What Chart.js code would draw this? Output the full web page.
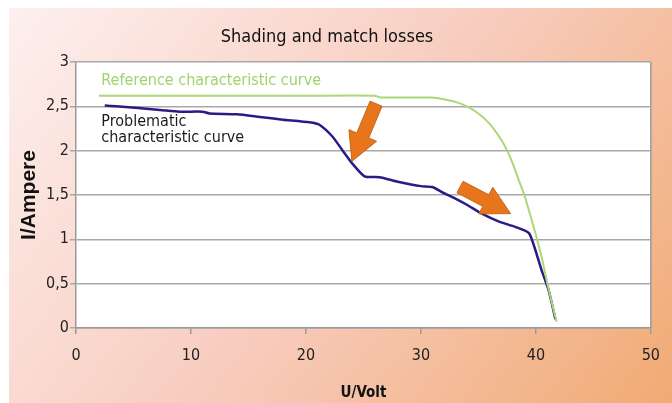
<!DOCTYPE html>
<html>
<head>
<meta charset="utf-8">
<script src="https://cdn.jsdelivr.net/npm/chart.js@4"></script>
<style>
  html, body { margin: 0; padding: 0; background: #fff; }
  #wrap { width: 672px; height: 403px; }
</style>
</head>
<body>
<div id="wrap"><canvas id="ivChart" width="672" height="403"></canvas></div>
<script>
// reference (unshaded) I-V curve
var refU = [2, 10, 20, 26, 26.5, 31, 32, 33, 34, 35, 36, 37, 37.5, 38, 38.5, 39, 39.5, 40, 40.5, 41, 41.4, 41.8];
var refI = [2.62, 2.62, 2.62, 2.62, 2.6, 2.6, 2.58, 2.55, 2.5, 2.42, 2.3, 2.12, 2.0, 1.85, 1.67, 1.5, 1.28, 1.05, 0.8, 0.5, 0.28, 0.07];

// problematic (shaded / mismatched) curve
var probU = [2.5, 3.5, 7.3, 9, 11, 11.6, 14, 16, 18, 20.3, 21.2, 22.3, 23.2, 24, 25.1, 26.4, 28, 30, 31, 32, 33, 34, 35.3, 36.8, 38.2, 39.4, 40, 40.5, 41.1, 41.7];
var probI = [2.51, 2.5, 2.46, 2.44, 2.44, 2.42, 2.41, 2.38, 2.35, 2.32, 2.29, 2.16, 2.0, 1.86, 1.71, 1.7, 1.65, 1.6, 1.59, 1.52, 1.46, 1.39, 1.29, 1.2, 1.14, 1.07, 0.86, 0.65, 0.43, 0.1];

// arrows [tailU, tailI, tipU, tipI]
var arrows = [[26.1, 2.53, 24.0, 1.88], [33.4, 1.59, 37.8, 1.29]];

// in-chart labels: text lines, colour, anchor (U, I)
var labels = [
  { lines: ["Reference characteristic curve"], color: "#9fd46c", u: 2.2, i: 2.79 },
  { lines: ["Problematic", "characteristic curve"], color: "#1c1c1c", u: 2.2, i: 2.33 }
];

var NARROW = "'Liberation Sans Narrow', 'DejaVu Sans Condensed', sans-serif";

function toPoints(xs, ys) {
  return xs.map(function (x, k) { return { x: x, y: ys[k] }; });
}

var backdrop = {
  id: 'backdrop',
  beforeDraw: function (chart) {
    var c = chart.ctx, a = chart.chartArea;
    c.save();
    c.fillStyle = '#ffffff';
    c.fillRect(0, 0, chart.width, chart.height);
    var g = c.createLinearGradient(9, 8, chart.width, chart.height + 120);
    g.addColorStop(0, '#fdf0ee');
    g.addColorStop(0.45, '#f8cdc0');
    g.addColorStop(1, '#efa465');
    c.fillStyle = g;
    c.fillRect(9, 8, chart.width - 9, chart.height - 8);
    c.fillStyle = '#ffffff';
    c.fillRect(a.left, a.top, a.right - a.left, a.bottom - a.top);
    c.strokeStyle = '#9a9a9a';
    c.lineWidth = 1.5;
    c.beginPath();
    c.moveTo(a.right, a.top);
    c.lineTo(a.right, a.bottom);
    c.stroke();
    c.restore();
  }
};

var notes = {
  id: 'notes',
  afterDatasetsDraw: function (chart) {
    var c = chart.ctx, xs = chart.scales.x, ys = chart.scales.y;
    c.save();
    // arrows
    arrows.forEach(function (ar) {
      var x0 = xs.getPixelForValue(ar[0]), y0 = ys.getPixelForValue(ar[1]);
      var x1 = xs.getPixelForValue(ar[2]), y1 = ys.getPixelForValue(ar[3]);
      var dx = x1 - x0, dy = y1 - y0, len = Math.sqrt(dx * dx + dy * dy);
      var ux = dx / len, uy = dy / len, nx = -uy, ny = ux;
      var sw = 6.5, hw = 15, hl = 28;
      var bx = x1 - ux * hl, by = y1 - uy * hl;
      c.beginPath();
      c.moveTo(x0 + nx * sw, y0 + ny * sw);
      c.lineTo(bx + nx * sw, by + ny * sw);
      c.lineTo(bx + nx * hw, by + ny * hw);
      c.lineTo(x1, y1);
      c.lineTo(bx - nx * hw, by - ny * hw);
      c.lineTo(bx - nx * sw, by - ny * sw);
      c.lineTo(x0 - nx * sw, y0 - ny * sw);
      c.closePath();
      c.fillStyle = '#e8751c';
      c.fill();
      c.strokeStyle = '#c9651a';
      c.lineWidth = 1;
      c.stroke();
    });
    // labels
    c.font = '16px ' + NARROW;
    c.textAlign = 'left';
    c.textBaseline = 'middle';
    labels.forEach(function (lb) {
      var x = xs.getPixelForValue(lb.u), y = ys.getPixelForValue(lb.i);
      c.fillStyle = lb.color;
      lb.lines.forEach(function (t, k) { c.fillText(t, x, y + k * 16); });
    });
    c.restore();
  }
};

var ctx = document.getElementById('ivChart').getContext('2d');
var ivChart = new Chart(ctx, {
  type: 'scatter',
  data: {
    datasets: [{
      label: 'Reference characteristic curve',
      data: toPoints(refU, refI),
      showLine: true,
      borderColor: '#a8d878',
      borderWidth: 2,
      pointRadius: 0,
      tension: 0.2
    }, {
      label: 'Problematic characteristic curve',
      data: toPoints(probU, probI),
      showLine: true,
      borderColor: '#2c1b85',
      borderWidth: 2.5,
      pointRadius: 0,
      tension: 0.2
    }]
  },
  options: {
    responsive: false,
    animation: false,
    layout: { padding: { left: 0, right: 18, top: 0, bottom: 0 } },
    plugins: {
      legend: { display: false },
      tooltip: { enabled: false },
      title: {
        display: true,
        text: 'Shading and match losses',
        color: '#111',
        font: { family: NARROW, size: 18, weight: 'normal', lineHeight: 1.2 },
        padding: { top: 27, bottom: 13.4 }
      }
    },
    scales: {
      x: {
        type: 'linear',
        min: 0, max: 50,
        ticks: {
          stepSize: 10, color: '#222', padding: 12,
          font: { family: NARROW, size: 16 }
        },
        grid: { drawOnChartArea: false, drawTicks: true, tickLength: 6, color: '#9a9a9a', lineWidth: 1.5 },
        border: { color: '#9a9a9a', width: 1.5 },
        title: {
          display: true, text: 'U/Volt', color: '#111',
          font: { family: NARROW, size: 15, weight: 'bold', lineHeight: 1.2 },
          padding: { top: 0, bottom: 1 }
        },
        afterFit: function (s) { s.height = 75; }
      },
      y: {
        min: 0, max: 3,
        ticks: {
          stepSize: 0.5, color: '#222', padding: 1,
          font: { family: NARROW, size: 16 },
          callback: function (v) { return String(v).replace('.', ','); }
        },
        grid: { color: '#a8a8a8', lineWidth: 1.5, tickLength: 6 },
        border: { color: '#9a9a9a', width: 1.5 },
        title: {
          display: true, text: 'I/Ampere', color: '#111',
          font: { family: "'Liberation Sans', Arial, sans-serif", size: 21, weight: 'bold', lineHeight: 1.2 },
          padding: { top: 17, bottom: 0 }
        },
        afterFit: function (s) { s.width = 76; }
      }
    }
  },
  plugins: [backdrop, notes]
});
</script>
</body>
</html>
